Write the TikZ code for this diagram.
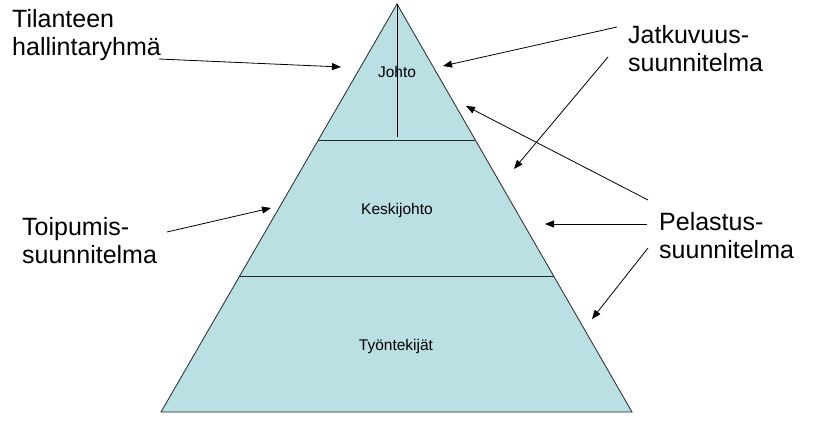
\documentclass[tikz,border=0pt]{standalone}
\usepackage{fontspec}
\setmainfont{Liberation Sans}
\usetikzlibrary{arrows.meta,calc}
\definecolor{pyr}{RGB}{186,224,227}
\begin{document}
\begin{tikzpicture}[x=1pt,y=-1pt,
  big/.style={font=\fontsize{25}{28}\selectfont, align=left, inner sep=0pt, anchor=north west},
  small/.style={font=\fontsize{15.5}{18}\selectfont, inner sep=0pt},
  arr/.style={-{Triangle[length=9pt,width=7pt]}, line width=0.8pt},
  edge/.style={draw=black!85, line width=0.8pt}]
\useasboundingbox[fill=white] (0,0) rectangle (815,442);
% pyramid
\coordinate (apex) at (397,4);
\coordinate (bl) at (161,412);
\coordinate (br) at (632,412);
\coordinate (l1a) at ($(apex)!1/3!(bl)$);
\coordinate (l1b) at ($(apex)!1/3!(br)$);
\coordinate (l2a) at ($(apex)!2/3!(bl)$);
\coordinate (l2b) at ($(apex)!2/3!(br)$);
\coordinate (vend) at (397,137);
\fill[pyr] (apex) -- (br) -- (bl) -- cycle;
\draw[edge] (apex) -- (br) -- (bl) -- cycle;
\draw[edge] (l1a) -- (l1b);
\draw[edge] (l2a) -- (l2b);
\draw[line width=1pt] (apex) -- (vend);
% level labels
\node[small] (johto) at (397,72) {Johto};
\node[small] (keski) at (397,210) {Keskijohto};
\node[small] (tyon) at (396,346) {Työntekijät};
% side labels
\node[big] (tilanne) at (12,9) {Tilanteen\\hallintaryhmä};
\node[big] (jatku) at (628,25) {Jatkuvuus-\\suunnitelma};
\node[big] (pelast) at (659,212) {Pelastus-\\suunnitelma};
\node[big] (toipu) at (22,217) {Toipumis-\\suunnitelma};
% arrow ends
\coordinate (tS) at (159,59);   \coordinate (tE) at (341,67);
\coordinate (j1S) at (617,27);  \coordinate (j1E) at (443,66);
\coordinate (j2S) at (608,57);  \coordinate (j2E) at (514,169);
\coordinate (p1S) at (648,200); \coordinate (p1E) at (466,106);
\coordinate (p2S) at (647,224); \coordinate (p2E) at (545,224);
\coordinate (p3S) at (648,248); \coordinate (p3E) at (592,319);
\coordinate (oS) at (167,232);  \coordinate (oE) at (271,208);
\draw[arr] (tS) -- (tE);
\draw[arr] (j1S) -- (j1E);
\draw[arr] (j2S) -- (j2E);
\draw[arr] (p1S) -- (p1E);
\draw[arr] (p2S) -- (p2E);
\draw[arr] (p3S) -- (p3E);
\draw[arr] (oS) -- (oE);
\end{tikzpicture}
\end{document}
